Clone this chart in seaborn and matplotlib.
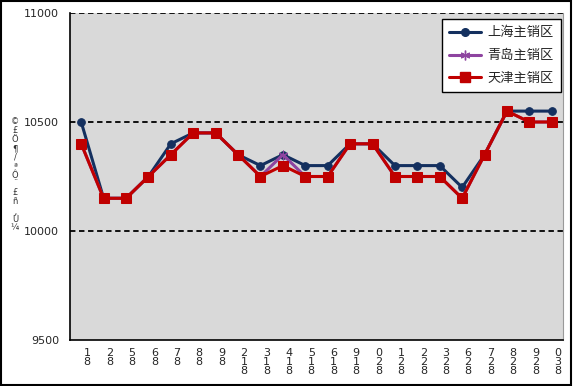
import matplotlib
matplotlib.use("Agg")
import matplotlib.pyplot as plt
import matplotlib.transforms as mtransforms
from matplotlib.lines import Line2D
from matplotlib.patches import Rectangle
import seaborn as sns
import pandas as pd

dates = ["8/1", "8/2", "8/5", "8/6", "8/7", "8/8", "8/9", "8/12", "8/13", "8/14", "8/15",
         "8/16", "8/19", "8/20", "8/21", "8/22", "8/23", "8/26", "8/27", "8/28", "8/29", "8/30"]
shanghai = [10500, 10150, 10150, 10250, 10400, 10450, 10450, 10350, 10300, 10350, 10300,
            10300, 10400, 10400, 10300, 10300, 10300, 10200, 10350, 10550, 10550, 10550]
qingdao = [10400, 10150, 10150, 10250, 10350, 10450, 10450, 10350, 10250, 10350, 10250,
           10250, 10400, 10400, 10250, 10250, 10250, 10150, 10350, 10550, 10500, 10500]
tianjin = [10400, 10150, 10150, 10250, 10350, 10450, 10450, 10350, 10250, 10300, 10250,
           10250, 10400, 10400, 10250, 10250, 10250, 10150, 10350, 10550, 10500, 10500]
series_names = ["上海主销区", "青岛主销区", "天津主销区"]
y_ticks = [9500, 10000, 10500, 11000]
y_label = "¼Û¸ñ£¨Ôª/¶Ö£©"

sns.set_theme(style="white")
plt.rcParams["font.family"] = ["Noto Sans CJK SC", "DejaVu Sans"]

fig = plt.figure(figsize=(5.73, 3.86), dpi=100)
ax = fig.add_axes([70 / 573, 1 - 340 / 386, (563 - 70) / 573, (340 - 13) / 386])
ax.set_facecolor("#d9d9d9")

colors = ["#14305f", "#8e44a0", "#c00000"]
markers = ["o", (6, 2, 0), "s"]
msizes = [5.5, 7, 6.5]
values = [shanghai, qingdao, tianjin]

x_idx = list(range(len(dates)))
for name, vals, c, m, ms in zip(series_names, values, colors, markers, msizes):
    df = pd.DataFrame({"x": x_idx, "y": vals})
    sns.lineplot(data=df, x="x", y="y", ax=ax, color=c, marker=m, markersize=ms,
                 markeredgecolor=c, markerfacecolor=c, linewidth=2.2, label=name,
                 legend=False, zorder=3)

ax.set_xlim(-0.5, len(dates) - 0.5)
ax.set_ylim(9500, 11000)
ax.set_yticks(y_ticks)
ax.set_yticklabels([str(v) for v in y_ticks], fontsize=8, family="DejaVu Sans")
ax.tick_params(axis="y", length=0, pad=8)

for v in [10000, 10500, 11000]:
    ax.axhline(v, color="black", linestyle=(0, (3, 2)), linewidth=1.3, zorder=2)

# x labels: stacked vertical digits
def stack(s):
    chars = [ch for ch in reversed(s) if ch != "/"]
    return "\n".join(chars)

ax.set_xticks(x_idx)
ax.set_xticklabels([stack(d) for d in dates], fontsize=8, family="DejaVu Sans",
                   linespacing=0.85, va="top")
ax.tick_params(axis="x", which="major", length=0, pad=6)
ax.set_xticks([i + 0.5 for i in range(len(dates) - 1)], minor=True)
ax.tick_params(axis="x", which="minor", direction="in", length=5, width=1, color="black")
offset = mtransforms.ScaledTranslation(6 / 100, 0, fig.dpi_scale_trans)
for lab in ax.get_xticklabels():
    lab.set_transform(lab.get_transform() + offset)

ax.set_xlabel("")
ax.set_ylabel("")

for side in ["left", "bottom"]:
    ax.spines[side].set_color("black")
    ax.spines[side].set_linewidth(1.2)
ax.spines["top"].set_visible(False)
ax.spines["right"].set_color("#9a9a9a")
ax.spines["right"].set_linewidth(0.8)

fig.text(15 / 573, 1 - 175 / 386, "\n".join(reversed(y_label)), fontsize=6,
         family="DejaVu Sans", ha="center", va="center", linespacing=0.98, color="#333333")

handles = [Line2D([0], [0], color=c, marker=m, markersize=ms, markerfacecolor=c,
                  markeredgecolor=c, linewidth=2.2)
           for c, m, ms in zip(colors, markers, msizes)]
leg = ax.legend(handles, series_names, loc="upper right",
                bbox_to_anchor=((561 - 70) / 493, (340 - 19) / 327),
                borderaxespad=0,
                frameon=True, fancybox=False, framealpha=1, edgecolor="black",
                prop={"family": "Noto Sans CJK SC", "size": 9.5}, handlelength=2.4,
                handletextpad=0.5, labelspacing=0.75, borderpad=0.55)
leg.get_frame().set_linewidth(1.0)
leg.set_zorder(5)

fig.patches.append(Rectangle((0.002, 0.003), 0.995, 0.994, transform=fig.transFigure,
                             fill=False, edgecolor="black", linewidth=1.5))

fig.savefig("out.png", dpi=100)
